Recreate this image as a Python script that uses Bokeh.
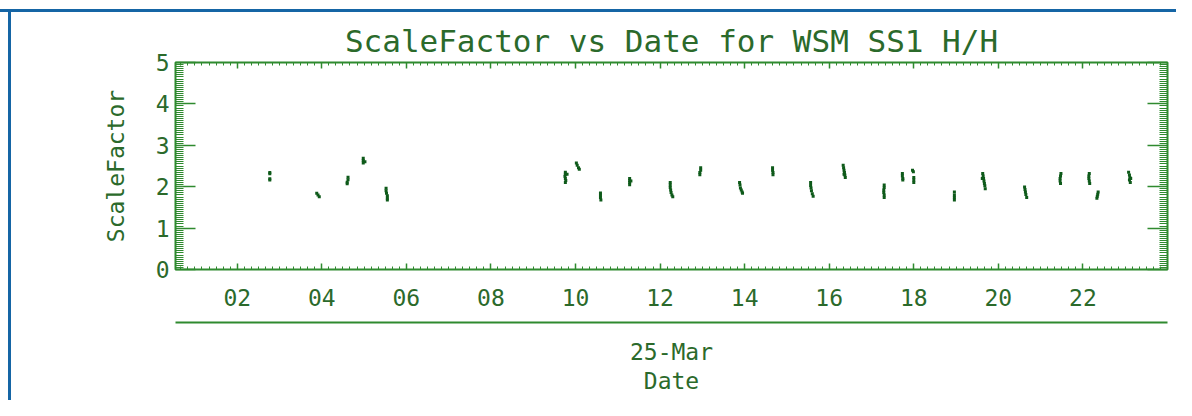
import numpy as np
from bokeh.plotting import figure
from bokeh.models import LinearAxis, FixedTicker, Range1d, ColumnDataSource, Grid
from bokeh.embed import file_html
from bokeh.resources import INLINE

# ---- data (hours of 25-Mar, ScaleFactor) ----
hours = [
    2.77, 2.77, 2.77, 2.77,
    3.88, 3.91, 3.94,
    4.62, 4.62, 4.60, 4.60,
    4.98, 4.98, 4.98, 5.02,
    5.52, 5.52, 5.53, 5.55, 5.55, 5.55,
    9.76, 9.76, 9.75, 9.76, 9.77, 9.76, 9.80,
    10.02, 10.04, 10.07, 10.09,
    10.59, 10.59, 10.59, 10.60,
    11.28, 11.28, 11.28, 11.28, 11.31,
    12.24, 12.24, 12.24, 12.25, 12.26, 12.28, 12.30,
    12.96, 12.96, 12.94, 12.94,
    13.88, 13.89, 13.90, 13.92, 13.94, 13.95,
    14.66, 14.66, 14.67, 14.67,
    15.56, 15.56, 15.57, 15.58, 15.60, 15.62,
    16.33, 16.34, 16.35, 16.36, 16.37, 16.38, 16.35,
    17.30, 17.30, 17.29, 17.29, 17.30, 17.30,
    17.73, 17.73, 17.74, 17.74,
    17.97, 17.99, 18.00, 18.00, 18.00,
    18.96, 18.96, 18.96, 18.96,
    19.63, 19.64, 19.65, 19.66, 19.67, 19.68, 19.69, 19.62,
    20.62, 20.63, 20.64, 20.65, 20.67,
    21.48, 21.47, 21.46, 21.46, 21.47,
    22.15, 22.14, 22.14, 22.15, 22.16,
    22.36, 22.35, 22.34, 22.33,
    23.08, 23.10, 23.11, 23.10, 23.12, 23.13,
]
values = [
    2.34, 2.31, 2.19, 2.16,
    1.84, 1.80, 1.76,
    2.23, 2.17, 2.11, 2.07,
    2.69, 2.63, 2.57, 2.60,
    1.96, 1.90, 1.84, 1.78, 1.72, 1.68,
    2.35, 2.30, 2.25, 2.20, 2.15, 2.10, 2.30,
    2.57, 2.52, 2.46, 2.42,
    1.85, 1.80, 1.74, 1.68,
    2.20, 2.15, 2.10, 2.05, 2.14,
    2.10, 2.04, 1.98, 1.92, 1.86, 1.80, 1.76,
    2.46, 2.40, 2.34, 2.29,
    2.10, 2.04, 1.97, 1.92, 1.87, 1.84,
    2.46, 2.40, 2.34, 2.29,
    2.10, 2.03, 1.97, 1.90, 1.83, 1.77,
    2.52, 2.46, 2.40, 2.34, 2.28, 2.22, 2.30,
    2.04, 1.98, 1.92, 1.86, 1.80, 1.74,
    2.32, 2.26, 2.20, 2.16,
    2.40, 2.36, 2.22, 2.16, 2.10,
    1.87, 1.80, 1.74, 1.68,
    2.32, 2.26, 2.20, 2.14, 2.08, 2.02, 1.95, 2.20,
    1.99, 1.93, 1.87, 1.81, 1.74,
    2.32, 2.26, 2.20, 2.14, 2.08,
    2.32, 2.26, 2.20, 2.14, 2.08,
    1.87, 1.82, 1.77, 1.72,
    2.35, 2.28, 2.22, 2.16, 2.10, 2.20,
]

x_tick_values = [2, 4, 6, 8, 10, 12, 14, 16, 18, 20, 22]
x_tick_labels = ["02", "04", "06", "08", "10", "12", "14", "16", "18", "20", "22"]
y_tick_values = [0, 1, 2, 3, 4, 5]
date_label = "25-Mar"
title_text = "ScaleFactor vs Date for WSM SS1 H/H"

TEXT = "#2b6a2b"
FRAME = "#2f8a2f"
MARK = "#0e5a1a"
BLUE = "#1565a5"
FONT = "DejaVu Sans Mono"

src = ColumnDataSource(dict(h=hours, v=values))

p = figure(width=1176, height=400, output_backend="svg", toolbar_location=None,
           x_range=Range1d(0.54, 24.0), y_range=Range1d(0, 5),
           x_axis_location=None, y_axis_location=None,
           min_border_left=175, min_border_right=9, min_border_top=62,
           min_border_bottom=131)
p.center = [r for r in p.center if not isinstance(r, Grid)]

p.outline_line_color = FRAME
p.outline_line_width = 2
p.background_fill_color = "white"
p.border_fill_color = None
p.styles = {
    "background": (f"linear-gradient({BLUE},{BLUE}) 0px 9px / 100% 3px no-repeat, "
                   f"linear-gradient({BLUE},{BLUE}) 8px 9px / 3px 100% no-repeat, white"),
}

p.title.text = title_text
p.title.align = "center"
p.title.text_font = FONT
p.title.text_font_size = "31px"
p.title.text_font_style = "normal"
p.title.text_color = TEXT
p.title.standoff = 8

x_minor = list(np.arange(0.5, 24.01, 1/6))
y_minor = list(np.arange(0, 5.001, 0.05))

def style_axis(ax, tick_in, tick_minor_in):
    ax.axis_line_color = None
    ax.major_tick_in = tick_in
    ax.major_tick_out = 0
    ax.minor_tick_in = tick_minor_in
    ax.minor_tick_out = 0
    ax.major_tick_line_color = FRAME
    ax.minor_tick_line_color = FRAME
    ax.major_tick_line_width = 1.5
    ax.minor_tick_line_width = 1
    ax.major_label_text_font = FONT
    ax.major_label_text_color = TEXT
    ax.axis_label_text_font = FONT
    ax.axis_label_text_color = TEXT
    ax.axis_label_text_font_style = "normal"

# bottom axis with hour labels
xb = LinearAxis(ticker=FixedTicker(ticks=x_tick_values, minor_ticks=x_minor))
style_axis(xb, 6, 3)
xb.major_label_overrides = {t: l for t, l in zip(x_tick_values, x_tick_labels)}
xb.major_label_text_font_size = "23px"
xb.major_label_standoff = 19
xb.axis_label = " "
xb.axis_label_text_font_size = "5px"
p.add_layout(xb, "below")

# second bottom axis: date line and label
xd = LinearAxis(ticker=FixedTicker(ticks=[]))
style_axis(xd, 0, 0)
xd.axis_line_color = FRAME
xd.axis_line_width = 2
xd.major_label_standoff = 0
xd.axis_label = date_label
xd.axis_label_text_font_size = "23px"
xd.axis_label_standoff = 16
p.add_layout(xd, "below")

# third: "Date"
xl = LinearAxis(ticker=FixedTicker(ticks=[]))
style_axis(xl, 0, 0)
xl.major_label_standoff = 0
xl.axis_label = "Date"
xl.axis_label_text_font_size = "23px"
xl.axis_label_standoff = 0
p.add_layout(xl, "below")

# top mirror axis (no labels)
xt = LinearAxis(ticker=FixedTicker(ticks=x_tick_values, minor_ticks=x_minor))
style_axis(xt, 6, 3)
xt.major_label_overrides = {t: "" for t in x_tick_values}
xt.major_label_standoff = 0
p.add_layout(xt, "above")

# left axis
yl = LinearAxis(ticker=FixedTicker(ticks=y_tick_values, minor_ticks=y_minor))
style_axis(yl, 20, 8)
yl.major_label_text_font_size = "23px"
yl.major_label_standoff = 6
yl.axis_label = "ScaleFactor"
yl.axis_label_text_font_size = "23px"
yl.axis_label_standoff = 24
p.add_layout(yl, "left")

# right mirror axis (no labels)
yr = LinearAxis(ticker=FixedTicker(ticks=y_tick_values, minor_ticks=y_minor))
style_axis(yr, 20, 8)
yr.major_label_overrides = {t: "" for t in y_tick_values}
yr.major_label_standoff = 0
p.add_layout(yr, "right")

p.scatter("h", "v", source=src, marker="square", size=3, color=MARK, line_width=0)

open("out.html", "w").write(file_html(p, INLINE))
